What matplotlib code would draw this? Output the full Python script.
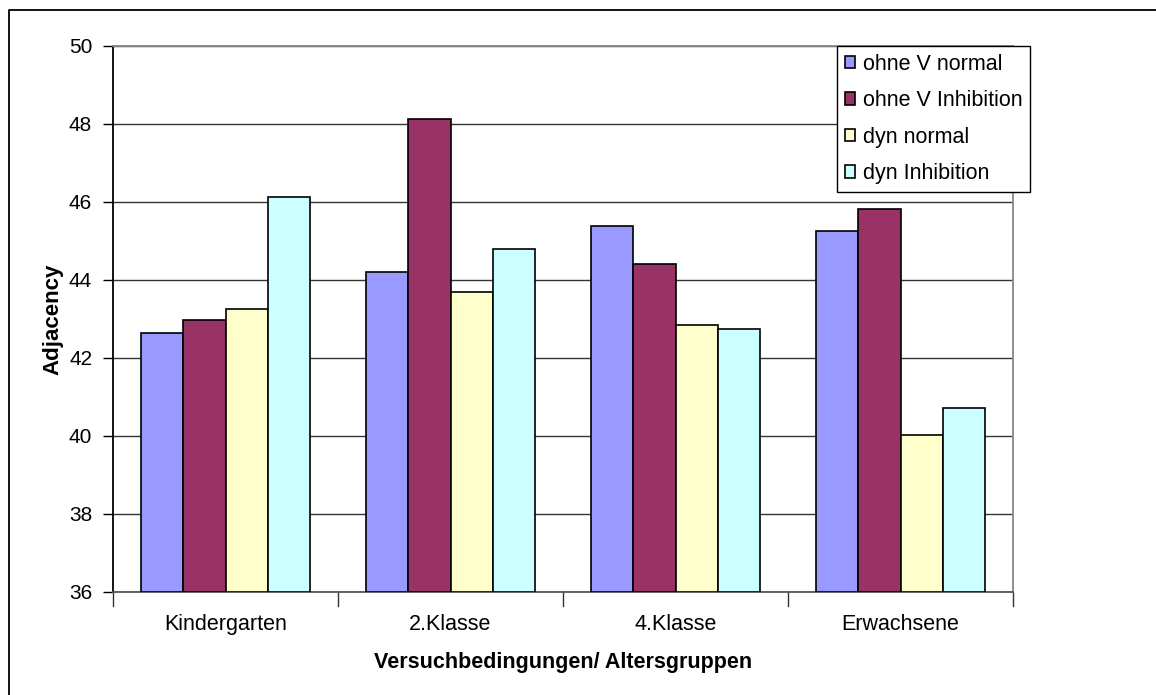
import numpy as np
import matplotlib.pyplot as plt
from matplotlib.lines import Line2D

plt.rcParams['font.family'] = ['Liberation Sans', 'DejaVu Sans']

# DATEN
gruppen = ["Kindergarten", "2.Klasse", "4.Klasse", "Erwachsene"]
serien = ["ohne V normal", "ohne V Inhibition", "dyn normal", "dyn Inhibition"]
ohne_v_normal = [42.65, 44.2, 45.38, 45.25]
ohne_v_inhibition = [42.98, 48.13, 44.4, 45.82]
dyn_normal = [43.25, 43.7, 42.85, 40.02]
dyn_inhibition = [46.13, 44.8, 42.75, 40.72]
y_ticks = [36, 38, 40, 42, 44, 46, 48, 50]

farben = ["#9999ff", "#993366", "#ffffcc", "#ccffff"]
werte = [ohne_v_normal, ohne_v_inhibition, dyn_normal, dyn_inhibition]

fig = plt.figure(figsize=(11.56, 6.95), dpi=100)
# aeusserer Rahmen (nur links und oben sichtbar)
fig.lines.append(Line2D([9/1156, 9/1156, 1], [0, 685/695, 685/695], transform=fig.transFigure,
                        color="black", linewidth=1.3))
ax = fig.add_axes([113/1156, 103/695, 900/1156, 546/695])

x = np.arange(len(gruppen))
breite = 0.1875
handles = []
for i, (name, w) in enumerate(zip(serien, werte)):
    pos = x - 1.5*breite + i*breite
    b = ax.bar(pos, np.array(w) - 36, bottom=36, width=breite, color=farben[i],
               edgecolor="black", linewidth=1.2, label=name, zorder=3)
    handles.append(b)

ax.set_xlim(-0.5, 3.5)
ax.set_ylim(36, 50)
ax.set_yticks(y_ticks)
ax.tick_params(axis="y", direction="out", length=7, width=1, labelsize=15, colors="black", pad=8)
ax.yaxis.grid(True, color="#333333", linewidth=1.0, zorder=0)

ax.set_xticks(x)
ax.set_xticklabels(gruppen, fontsize=15.5)
ax.tick_params(axis="x", length=0, pad=16)
for t in [-0.5, 0.5, 1.5, 2.5, 3.5]:
    ax.plot([t, t], [0, -0.025], transform=ax.get_xaxis_transform(), color="#333333",
            linewidth=1, clip_on=False)

ax.spines["left"].set_color("black")
ax.spines["bottom"].set_color("#555555")
ax.spines["top"].set_color("#888888")
ax.spines["right"].set_color("#888888")
for s in ax.spines.values():
    s.set_linewidth(1.3)

ax.set_ylabel("Adjacency", fontsize=16, fontweight="bold", labelpad=4)
ax.set_xlabel("Versuchbedingungen/ Altersgruppen", fontsize=15.5, fontweight="bold", labelpad=12)

leg = fig.legend(handles=handles, loc="upper left", bbox_to_anchor=(837/1156, 649/695),
                 fontsize=15.5, frameon=True, fancybox=False, framealpha=1, handlelength=0.5,
                 handleheight=0.5, handletextpad=0.35, labelspacing=0.72,
                 borderpad=0.35, borderaxespad=0)
leg.get_frame().set_edgecolor("black")
leg.get_frame().set_linewidth(1.0)

fig.savefig("out.png", dpi=100)
